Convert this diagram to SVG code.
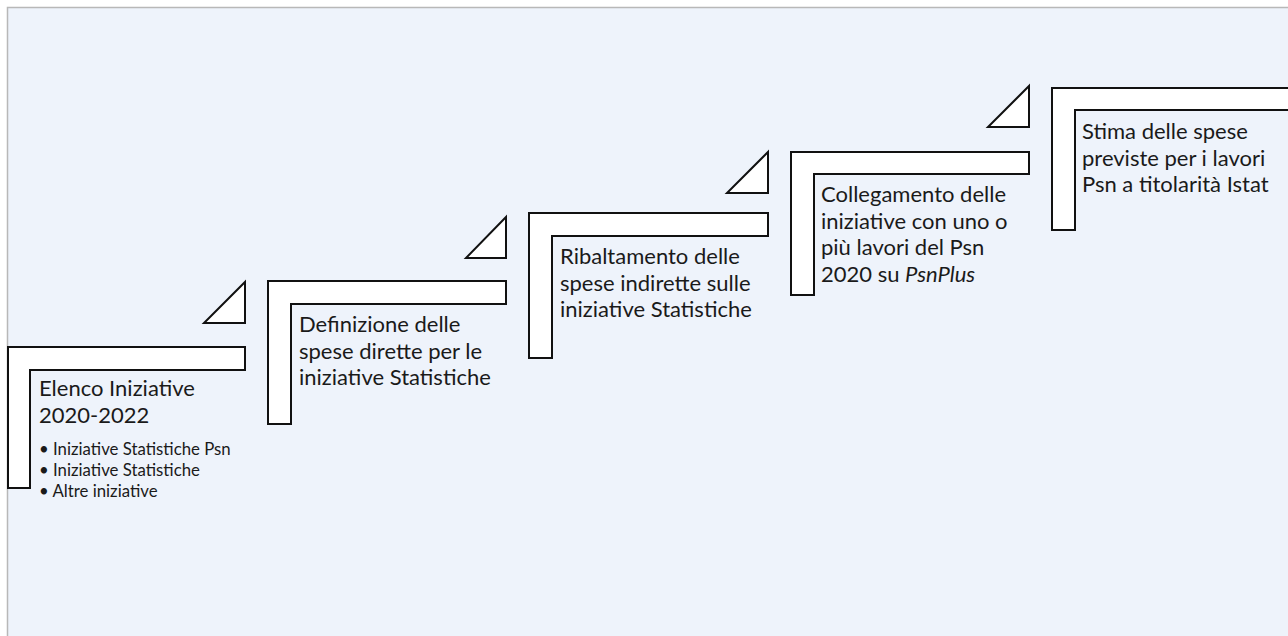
<svg xmlns="http://www.w3.org/2000/svg" width="1288" height="636" viewBox="0 0 1288 636">
<style>
.bg{fill:#EEF3FB;stroke:#B8B8B8;stroke-width:1.5}
.frame{fill:#FFFFFF;stroke:#111111;stroke-width:2;stroke-linejoin:miter}
.tri{fill:#FFFFFF;stroke:#111111;stroke-width:2;stroke-linejoin:miter}
.t{font-family:Lato,"Liberation Sans",sans-serif;font-size:22px;fill:#1A1A1A}
.b{font-family:Lato,"Liberation Sans",sans-serif;font-size:16.8px;fill:#1A1A1A}
</style>
<rect width="1288" height="636" fill="#FFFFFF"/>
<rect class="bg" x="7.5" y="7.5" width="1290" height="640"/>
<g id="connectors">
<polygon class="tri" points="204,323 245,323 245,282"/>
<polygon class="tri" points="466,258 506,258 506,217"/>
<polygon class="tri" points="727,193 768,193 768,152"/>
<polygon class="tri" points="988,127 1029,127 1029,86"/>
</g>
<g id="step1">
<polygon class="frame" points="8,347 245,347 245,370 30,370 30,488 8,488"/>
<text class="t" x="39" y="396">Elenco Iniziative</text>
<text class="t" x="39" y="422.5">2020-2022</text>
<text class="b" x="39" y="455">• Iniziative Statistiche Psn</text>
<text class="b" x="39" y="476">• Iniziative Statistiche</text>
<text class="b" x="39" y="497">• Altre iniziative</text>
</g>
<g id="step2">
<polygon class="frame" points="268,281 506,281 506,304 291,304 291,424 268,424"/>
<text class="t" x="299" y="332">Definizione delle</text>
<text class="t" x="299" y="358.5">spese dirette per le</text>
<text class="t" x="299" y="385">iniziative Statistiche</text>
</g>
<g id="step3">
<polygon class="frame" points="529,213 768,213 768,236 552,236 552,358 529,358"/>
<text class="t" x="560" y="264">Ribaltamento delle</text>
<text class="t" x="560" y="290.5">spese indirette sulle</text>
<text class="t" x="560" y="317">iniziative Statistiche</text>
</g>
<g id="step4">
<polygon class="frame" points="791,152 1029,152 1029,174 814,174 814,295 791,295"/>
<text class="t" x="821" y="202">Collegamento delle</text>
<text class="t" x="821" y="228.5">iniziative con uno o</text>
<text class="t" x="821" y="255">più lavori del Psn</text>
<text class="t" x="821" y="281.5">2020 su <tspan font-style="italic">PsnPlus</tspan></text>
</g>
<g id="step5">
<polygon class="frame" points="1052,88 1300,88 1300,110 1075,110 1075,230 1052,230"/>
<text class="t" x="1082" y="139">Stima delle spese</text>
<text class="t" x="1082" y="165.5">previste per i lavori</text>
<text class="t" x="1082" y="192">Psn a titolarità Istat</text>
</g>
</svg>
